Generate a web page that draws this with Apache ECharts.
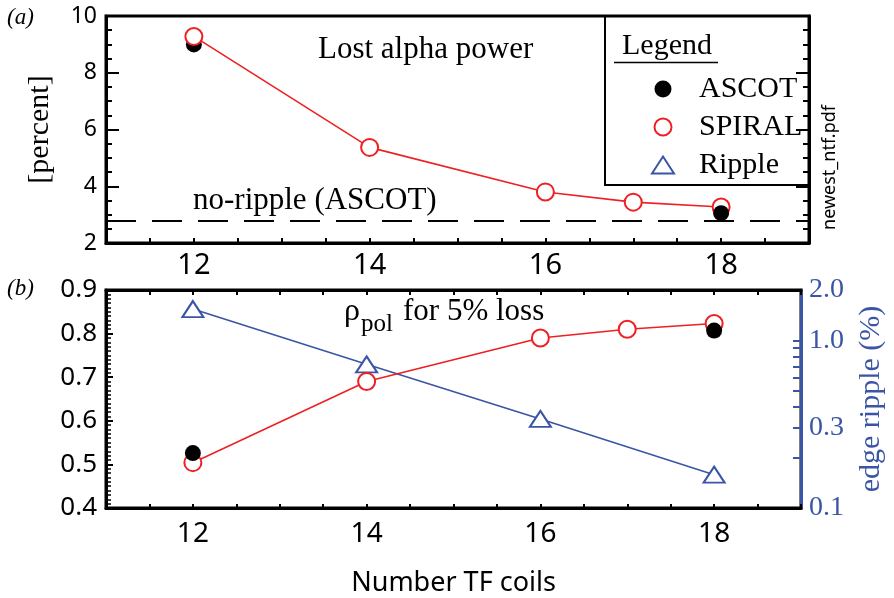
<!DOCTYPE html>
<html><head><meta charset="utf-8">
<script src="https://cdn.jsdelivr.net/npm/echarts@6/dist/echarts.min.js"></script>
<style>html,body{margin:0;padding:0;background:#fff}#c{width:894px;height:598px}</style>
</head><body><div id="c"></div>
<script>
// ---- data ----
const tfCoils = [12, 14, 16, 17, 18];
const spiralLoss = [9.28, 5.37, 3.80, 3.44, 3.27];
const ascotCoils = [12, 18];
const ascotLoss = [9.0, 3.05];
const noRippleLoss = 2.8;
const spiralRho = [0.504, 0.69, 0.79, 0.81, 0.823];
const ascotRho = [0.526, 0.807];
const rippleCoils = [12, 14, 16, 18];
const edgeRipple = [1.54, 0.72, 0.34, 0.158];
const xTickLabels = [12, 14, 16, 18];
const rippleTickLabels = [0.1, 0.3, 1.0, 2.0];
const rippleTicks = [0.2, 0.3, 0.4, 0.5, 0.6, 0.7, 0.8, 0.9, 1.0];

const RED = '#ee2024', BLUE = '#3a55a5';
const SERIF = 'Liberation Serif', SANS = 'Noto Sans';
const pairs = (xs, ys) => xs.map((x, i) => [x, ys[i]]);

const chart = echarts.init(document.getElementById('c'), null, {renderer: 'canvas'});

const xBase = (grid, pos, labels, fs, margin, len) => ({
  type: 'value', gridIndex: grid, position: pos, min: 11, max: 19, interval: 0.5,
  axisLine: {show: true, onZero: false, lineStyle: {color: '#000', width: 3}},
  axisTick: {show: len > 0, inside: true, length: len, lineStyle: {color: '#000', width: 2}},
  axisLabel: labels ? {show: true, customValues: xTickLabels, fontFamily: SANS, fontSize: fs, color: '#000', margin: margin} : {show: false},
  splitLine: {show: false}
});

const option = {
  animation: false,
  backgroundColor: '#fff',
  textStyle: {fontFamily: SERIF},
  grid: [
    {left: 106, top: 16, width: 703, height: 227, show: true, borderColor: '#000', borderWidth: 3, backgroundColor: 'transparent'},
    {left: 106, top: 290, width: 703, height: 226, show: true, borderColor: '#000', borderWidth: 3, backgroundColor: 'transparent'}
  ],
  xAxis: [
    xBase(0, 'bottom', true, 29, 8, 5),
    Object.assign(xBase(1, 'bottom', true, 28, 12, 4), {
      name: 'Number TF coils', nameLocation: 'middle', nameGap: 62,
      nameTextStyle: {fontFamily: SANS, fontSize: 27, color: '#000'}
    }),
    xBase(1, 'top', false, 0, 0, 5)
  ],
  yAxis: [
    {
      type: 'value', gridIndex: 0, position: 'left', min: 2, max: 10, interval: 2,
      axisLine: {show: true, lineStyle: {color: '#000', width: 3}},
      axisTick: {show: true, inside: true, length: 13, lineStyle: {color: '#000', width: 2}},
      minorTick: {show: true, splitNumber: 4, length: 6, lineStyle: {color: '#000', width: 2}},
      axisLabel: {fontFamily: SANS, fontSize: 23, color: '#000', margin: 9},
      splitLine: {show: false}, minorSplitLine: {show: false},
      name: '[percent]', nameLocation: 'middle', nameGap: 51,
      nameTextStyle: {fontFamily: SERIF, fontSize: 30, color: '#000'}
    },
    {
      type: 'value', gridIndex: 0, position: 'right', min: 2, max: 10, interval: 2,
      axisLine: {show: true, lineStyle: {color: '#000', width: 3}},
      axisTick: {show: true, inside: true, length: 13, lineStyle: {color: '#000', width: 2}},
      minorTick: {show: true, splitNumber: 4, length: 6, lineStyle: {color: '#000', width: 2}},
      axisLabel: {show: false}, splitLine: {show: false}
    },
    {
      type: 'value', gridIndex: 1, position: 'left', min: 0.4, max: 0.9, interval: 0.1,
      axisLine: {show: true, lineStyle: {color: '#000', width: 3}},
      axisTick: {show: true, inside: true, length: 7, lineStyle: {color: '#000', width: 2}},
      minorTick: {show: true, splitNumber: 10, length: 5, lineStyle: {color: '#000', width: 1.5}},
      axisLabel: {fontFamily: SANS, fontSize: 26, color: '#000', margin: 9, formatter: v => v.toFixed(1)},
      splitLine: {show: false}, minorSplitLine: {show: false}
    },
    {
      type: 'log', logBase: 10, gridIndex: 1, position: 'right', min: 0.1, max: 2,
      axisLine: {show: true, lineStyle: {color: BLUE, width: 3}},
      axisTick: {show: true, inside: true, length: 8, customValues: rippleTicks, lineStyle: {color: BLUE, width: 2}},
      axisLabel: {customValues: rippleTickLabels, formatter: v => Number(v).toFixed(1), fontFamily: SERIF, fontSize: 28, color: BLUE, margin: 8},
      splitLine: {show: false},
      name: 'edge ripple (%)', nameLocation: 'middle', nameGap: 55,
      nameTextStyle: {fontFamily: SERIF, fontSize: 30, color: BLUE}
    }
  ],
  legend: {
    left: 626, top: 69, orient: 'vertical', itemWidth: 62, itemHeight: 17, itemGap: 8,
    selectedMode: false, symbolKeepAspect: true,
    textStyle: {fontFamily: SERIF, fontSize: 30, color: '#000', lineHeight: 17},
    data: [
      {name: 'ASCOT', icon: 'circle', itemStyle: {color: '#000', borderWidth: 0, opacity: 1}},
      {name: 'SPIRAL', icon: 'circle', itemStyle: {color: '#fff', borderColor: RED, borderWidth: 2}},
      {name: 'Ripple', icon: 'path://M0,0M62,17M20,17L31,0L42,17Z', itemStyle: {color: '#fff', borderColor: BLUE, borderWidth: 2}}
    ]
  },
  series: [
    {
      name: 'ASCOT', type: 'scatter', xAxisIndex: 0, yAxisIndex: 0, z: 2,
      data: pairs(ascotCoils.slice(0, 1), ascotLoss.slice(0, 1)),
      symbol: 'circle', symbolSize: 16, itemStyle: {color: '#000', opacity: 1}, silent: true
    },
    {
      name: 'SPIRAL', type: 'line', xAxisIndex: 0, yAxisIndex: 0, z: 3,
      data: pairs(tfCoils, spiralLoss), color: RED,
      symbol: 'circle', symbolSize: 17, showAllSymbol: true,
      itemStyle: {color: '#fff', borderColor: RED, borderWidth: 2},
      lineStyle: {color: RED, width: 1.6}, silent: true,
      markLine: {
        silent: true, symbol: 'none', label: {show: false},
        lineStyle: {color: '#000', width: 2, type: [30, 16]},
        emphasis: {disabled: true},
        data: [{yAxis: noRippleLoss}]
      }
    },
    {
      name: 'ASCOT', type: 'scatter', xAxisIndex: 0, yAxisIndex: 0, z: 4,
      data: pairs(ascotCoils.slice(1), ascotLoss.slice(1)),
      symbol: 'circle', symbolSize: 16, itemStyle: {color: '#000', opacity: 1}, silent: true
    },
    {
      name: 'Ripple', type: 'line', xAxisIndex: 1, yAxisIndex: 3, z: 2,
      data: pairs(rippleCoils, edgeRipple), color: BLUE,
      symbol: 'triangle', symbolSize: [21, 16], showAllSymbol: true,
      itemStyle: {color: '#fff', borderColor: BLUE, borderWidth: 2},
      lineStyle: {color: BLUE, width: 1.6}, silent: true
    },
    {
      name: 'SPIRAL', type: 'line', xAxisIndex: 1, yAxisIndex: 2, z: 3,
      data: pairs(tfCoils, spiralRho), color: RED,
      symbol: 'circle', symbolSize: 17, showAllSymbol: true,
      itemStyle: {color: '#fff', borderColor: RED, borderWidth: 2},
      lineStyle: {color: RED, width: 1.6}, silent: true
    },
    {
      name: 'ASCOT', type: 'scatter', xAxisIndex: 1, yAxisIndex: 2, z: 4,
      data: pairs(ascotCoils, ascotRho),
      symbol: 'circle', symbolSize: 16, itemStyle: {color: '#000', opacity: 1}, silent: true
    }
  ],
  graphic: [
    {type: 'rect', shape: {x: 605, y: 16, width: 204, height: 169}, style: {fill: 'none', stroke: '#000', lineWidth: 2}, z: 50, silent: true},
    {type: 'text', x: 622, y: 46, style: {text: 'Legend', fontFamily: SERIF, fontSize: 30, fill: '#000', align: 'left', verticalAlign: 'middle'}, z: 50},
    {type: 'line', shape: {x1: 614, y1: 62.5, x2: 718, y2: 62.5}, style: {stroke: '#000', lineWidth: 1.5}, z: 50},
    {type: 'text', x: 318, y: 49.5, style: {text: 'Lost alpha power', fontFamily: SERIF, fontSize: 31, fill: '#000', align: 'left', verticalAlign: 'middle'}, z: 50},
    {type: 'text', x: 193, y: 200.5, style: {text: 'no-ripple (ASCOT)', fontFamily: SERIF, fontSize: 31, fill: '#000', align: 'left', verticalAlign: 'middle'}, z: 50},
    {type: 'text', x: 7, y: 18, style: {text: '(a)', fontFamily: SERIF, fontStyle: 'italic', fontSize: 23, fill: '#000', align: 'left', verticalAlign: 'middle'}, z: 50},
    {type: 'text', x: 7, y: 289, style: {text: '(b)', fontFamily: SERIF, fontStyle: 'italic', fontSize: 23, fill: '#000', align: 'left', verticalAlign: 'middle'}, z: 50},
    {type: 'text', x: 344, y: 312, style: {text: 'ρ', fontFamily: SERIF, fontSize: 32, fill: '#000', align: 'left', verticalAlign: 'middle'}, z: 50},
    {type: 'text', x: 361, y: 324, style: {text: 'pol', fontFamily: SERIF, fontSize: 25, fill: '#000', align: 'left', verticalAlign: 'middle'}, z: 50},
    {type: 'text', x: 403, y: 312, style: {text: 'for 5% loss', fontFamily: SERIF, fontSize: 31, fill: '#000', align: 'left', verticalAlign: 'middle'}, z: 50},
    {type: 'text', x: 830, y: 167.5, rotation: Math.PI / 2, style: {text: 'newest_ntf.pdf', fontFamily: SANS, fontSize: 18, fill: '#000', align: 'center', verticalAlign: 'middle'}, z: 50}
  ]
};
chart.setOption(option);
</script></body></html>
